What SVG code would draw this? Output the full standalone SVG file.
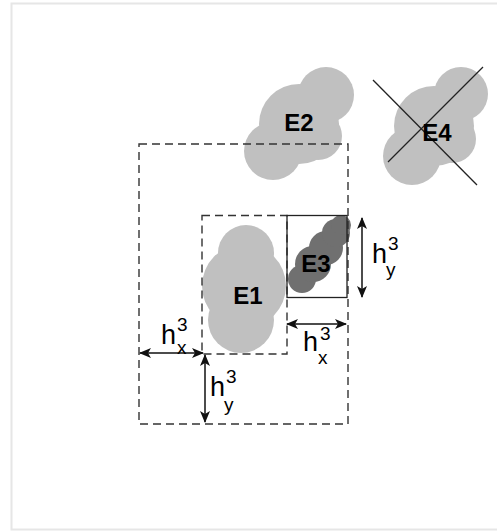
<svg xmlns="http://www.w3.org/2000/svg" width="497" height="532" viewBox="0 0 497 532">
  <defs>
    <marker id="arrowhead" viewBox="0 0 12 10" refX="11" refY="5" markerWidth="12" markerHeight="10" markerUnits="userSpaceOnUse" orient="auto-start-reverse">
      <path d="M0,0 L12,5 L0,10 L3,5 z" fill="#111"/>
    </marker>
    <style>
      .frame { fill: #fff; stroke: #e6e6e6; stroke-width: 2; }
      .light { fill: #c0c0c0; }
      .dark { fill: #707070; }
      .dashed { fill: none; stroke: #333; stroke-width: 1.4; stroke-dasharray: 8 5; }
      .solid { fill: none; stroke: #222; stroke-width: 1.3; }
      .cross { stroke: #222; stroke-width: 1.3; }
      .dim { stroke: #111; stroke-width: 1.5; marker-start: url(#arrowhead); marker-end: url(#arrowhead); }
      .label { font-family: "Liberation Sans", Arial, sans-serif; font-weight: bold; font-size: 24px; fill: #000; text-anchor: middle; }
      .h { font-family: "Liberation Sans", Arial, sans-serif; font-size: 27px; fill: #000; }
      .idx { font-family: "Liberation Sans", Arial, sans-serif; font-size: 19px; fill: #000; }
    </style>
  </defs>

  <rect class="frame" x="11.5" y="3.5" width="495" height="526"/>

  <!-- blobs -->
  <g id="E2">
    <g class="light">
      <circle cx="326" cy="95" r="28"/>
      <circle cx="299" cy="124" r="40"/>
      <circle cx="273" cy="151" r="29"/>
      <circle cx="318" cy="136" r="24"/>
    </g>
    <text class="label" x="299" y="131">E2</text>
  </g>

  <g id="E4">
    <g class="light">
      <circle cx="461" cy="94" r="27"/>
      <circle cx="434" cy="126" r="40"/>
      <circle cx="412" cy="156" r="29"/>
      <circle cx="452" cy="139" r="24"/>
    </g>
    <line class="cross" x1="373" y1="80" x2="477" y2="185"/>
    <line class="cross" x1="388" y1="162" x2="483" y2="67"/>
    <text class="label" x="437" y="141">E4</text>
  </g>

  <g id="E1">
    <g class="light">
      <circle cx="246" cy="253" r="28"/>
      <circle cx="244" cy="286" r="42"/>
      <circle cx="241" cy="320" r="33"/>
    </g>
    <text class="label" x="248" y="304">E1</text>
  </g>

  <g id="E3">
    <g class="dark">
      <circle cx="302" cy="279" r="14"/>
      <circle cx="313" cy="264" r="18"/>
      <circle cx="326" cy="248" r="17"/>
      <circle cx="336" cy="233" r="14"/>
      <circle cx="341" cy="225" r="10"/>
    </g>
    <text class="label" x="316" y="272">E3</text>
  </g>

  <!-- boxes -->
  <g id="boxes">
    <rect class="dashed" x="139" y="144" width="209" height="280"/>
    <rect class="dashed" x="202" y="215.5" width="85" height="138.5"/>
    <rect class="solid" x="287" y="215.5" width="60" height="82"/>
  </g>

  <!-- dimension arrows -->
  <g id="connectors">
    <line class="dim" x1="140" y1="353" x2="203" y2="353"/>
    <line class="dim" x1="205" y1="355" x2="205" y2="422"/>
    <line class="dim" x1="287" y1="324" x2="346" y2="324"/>
    <line class="dim" x1="362" y1="218" x2="362" y2="297"/>
  </g>

  <!-- dimension labels -->
  <g id="labels">
    <text class="h" x="161" y="344">h</text>
    <text class="idx" x="177" y="331">3</text>
    <text class="idx" x="177" y="354">x</text>

    <text class="h" x="210" y="396">h</text>
    <text class="idx" x="226" y="383">3</text>
    <text class="idx" x="224" y="411">y</text>

    <text class="h" x="303" y="351">h</text>
    <text class="idx" x="320" y="340">3</text>
    <text class="idx" x="318" y="364">x</text>

    <text class="h" x="372" y="263">h</text>
    <text class="idx" x="388" y="250">3</text>
    <text class="idx" x="386" y="276">y</text>
  </g>
</svg>
